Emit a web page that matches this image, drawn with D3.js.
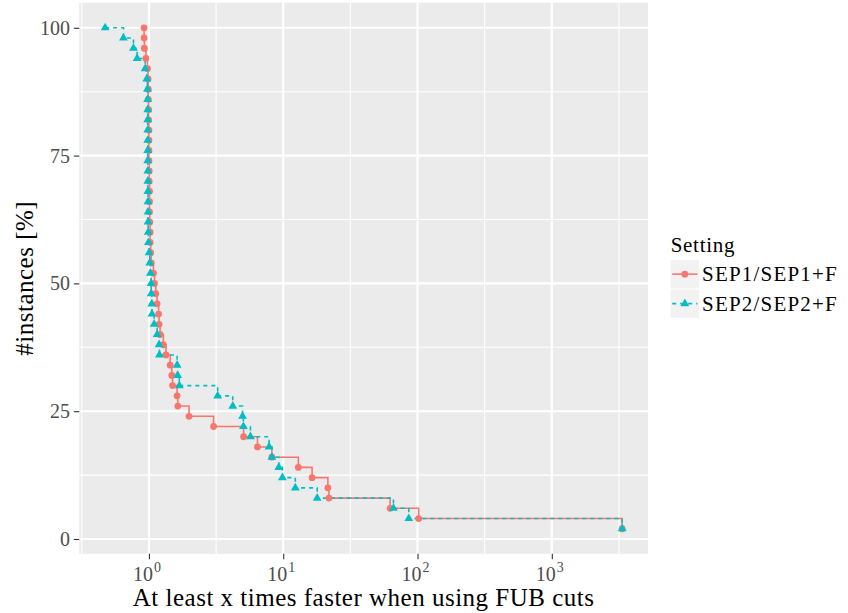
<!DOCTYPE html>
<html>
<head>
<meta charset="utf-8">
<script src="https://cdn.jsdelivr.net/npm/d3@7"></script>
<style>
  body { margin: 0; background: #ffffff; }
  text { font-family: "Liberation Serif", "DejaVu Serif", serif; }
</style>
</head>
<body>
<div id="vis"></div>
<script>
// values
const PERCENT = [100, 98, 96, 94, 92, 90, 88, 86, 84, 82,
                 80, 78, 76, 74, 72, 70, 68, 66, 64, 62,
                 60, 58, 56, 54, 52, 50, 48, 46, 44, 42,
                 40, 38, 36, 34, 32, 30, 28, 26, 24, 22,
                 20, 18, 16, 14, 12, 10, 8, 6, 4, 2];

const SEP1 = [0.92, 0.92, 0.925, 0.95, 0.975, 0.985, 0.99, 0.99, 0.995, 0.995,
              1.0, 1.0, 1.0, 1.0, 1.005, 1.005, 1.01, 1.01, 1.01, 1.015,
              1.02, 1.02, 1.03, 1.04, 1.08, 1.10, 1.125, 1.15, 1.18, 1.19,
              1.21, 1.28, 1.34, 1.44, 1.48, 1.50, 1.62, 1.64, 1.99, 3.03,
              5.07, 6.43, 8.23, 12.97, 16.4, 21.5, 21.9, 62.5, 102, 3340];

const SEP2 = [0.472, 0.646, 0.767, 0.817, 0.937, 0.964, 0.975, 0.978, 0.98, 0.98,
              0.98, 0.98, 0.98, 0.98, 0.982, 0.982, 0.982, 0.985, 0.985, 0.985,
              0.988, 0.991, 1.003, 1.015, 1.026, 1.038, 1.040, 1.051, 1.053, 1.093,
              1.151, 1.191, 1.197, 1.622, 1.636, 1.684, 3.25, 4.21, 4.98, 5.05,
              5.70, 7.85, 8.23, 9.27, 9.86, 12.3, 17.9, 66.2, 86.1, 3340];

const SERIES_NAMES = ["SEP1/SEP1+F", "SEP2/SEP2+F"];
const X_TICKS = [1, 10, 100, 1000];
const X_TICK_EXP = ["0", "1", "2", "3"];
const X_MINOR = [0.316228, 3.16228, 31.6228, 316.228, 3162.28];
const Y_TICKS = [0, 25, 50, 75, 100];
const Y_MINOR = [12.5, 37.5, 62.5, 87.5];

// frame
const FRAME_WIDTH = 848;
const FRAME_HEIGHT = 613;
const PANEL = {left: 79.3, right: 648, top: 2.75, bottom: 553.8};

const COLORS = ["#F8766D", "#00BFC4"];

const FRAME = d3.select("#vis")
  .append("svg")
    .attr("width", FRAME_WIDTH)
    .attr("height", FRAME_HEIGHT);

// series as point lists
const SERIES = [SEP1, SEP2].map((xs) => {
  return xs.map((x, i) => { return {x: x, y: PERCENT[i]}; });
});

// scales with ggplot style 5% expansion
const ALL_X = SEP1.concat(SEP2);
const LOG_MIN = Math.log10(d3.min(ALL_X));
const LOG_MAX = Math.log10(d3.max(ALL_X));
const LOG_PAD = (LOG_MAX - LOG_MIN) * 0.05;

const X_SCALE = d3.scaleLog()
  .domain([Math.pow(10, LOG_MIN - LOG_PAD), Math.pow(10, LOG_MAX + LOG_PAD)])
  .range([PANEL.left, PANEL.right]);

const Y_MIN = d3.min(PERCENT);
const Y_MAX = d3.max(PERCENT);
const Y_PAD = (Y_MAX - Y_MIN) * 0.05;

const Y_SCALE = d3.scaleLinear()
  .domain([Y_MIN - Y_PAD, Y_MAX + Y_PAD])
  .range([PANEL.bottom, PANEL.top]);

// panel background
FRAME.append("rect")
  .attr("x", PANEL.left)
  .attr("y", PANEL.top)
  .attr("width", PANEL.right - PANEL.left)
  .attr("height", PANEL.bottom - PANEL.top)
  .attr("fill", "#EBEBEB");

// minor grid
FRAME.selectAll(".xminor")
  .data(X_MINOR.filter((d) => { return X_SCALE(d) >= PANEL.left && X_SCALE(d) <= PANEL.right; }))
  .enter()
  .append("line")
    .attr("x1", (d) => { return X_SCALE(d); })
    .attr("x2", (d) => { return X_SCALE(d); })
    .attr("y1", PANEL.top)
    .attr("y2", PANEL.bottom)
    .attr("stroke", "#ffffff")
    .attr("stroke-width", 1.1);

FRAME.selectAll(".yminor")
  .data(Y_MINOR)
  .enter()
  .append("line")
    .attr("x1", PANEL.left)
    .attr("x2", PANEL.right)
    .attr("y1", (d) => { return Y_SCALE(d); })
    .attr("y2", (d) => { return Y_SCALE(d); })
    .attr("stroke", "#ffffff")
    .attr("stroke-width", 1.1);

// major grid
FRAME.selectAll(".xmajor")
  .data(X_TICKS)
  .enter()
  .append("line")
    .attr("x1", (d) => { return X_SCALE(d); })
    .attr("x2", (d) => { return X_SCALE(d); })
    .attr("y1", PANEL.top)
    .attr("y2", PANEL.bottom)
    .attr("stroke", "#ffffff")
    .attr("stroke-width", 2.1);

FRAME.selectAll(".ymajor")
  .data(Y_TICKS)
  .enter()
  .append("line")
    .attr("x1", PANEL.left)
    .attr("x2", PANEL.right)
    .attr("y1", (d) => { return Y_SCALE(d); })
    .attr("y2", (d) => { return Y_SCALE(d); })
    .attr("stroke", "#ffffff")
    .attr("stroke-width", 2.1);

// step lines, horizontal first then vertical
const STEP = d3.line()
  .x((d) => { return X_SCALE(d.x); })
  .y((d) => { return Y_SCALE(d.y); })
  .curve(d3.curveStepAfter);

SERIES.forEach((s, i) => {
  FRAME.append("path")
    .datum(s)
    .attr("d", STEP)
    .attr("fill", "none")
    .attr("stroke", COLORS[i])
    .attr("stroke-width", 1.6)
    .attr("stroke-dasharray", i === 1 ? "4,4" : null);
});

// points
const TRIANGLE = d3.symbol().type(d3.symbolTriangle).size(34);

FRAME.selectAll(".p1")
  .data(SERIES[0])
  .enter()
  .append("circle")
    .attr("cx", (d) => { return X_SCALE(d.x); })
    .attr("cy", (d) => { return Y_SCALE(d.y); })
    .attr("r", 3.4)
    .attr("fill", COLORS[0]);

FRAME.selectAll(".p2")
  .data(SERIES[1])
  .enter()
  .append("path")
    .attr("d", TRIANGLE)
    .attr("transform", (d) => { return "translate(" + X_SCALE(d.x) + "," + Y_SCALE(d.y) + ")"; })
    .attr("fill", COLORS[1]);

// x axis ticks and labels
FRAME.append("g")
  .attr("transform", "translate(0," + PANEL.bottom + ")")
  .call(d3.axisBottom(X_SCALE).tickValues(X_TICKS).tickSize(5.5).tickFormat(""))
  .call((g) => { g.select(".domain").remove(); })
  .call((g) => { g.selectAll("line").attr("stroke", "#333333").attr("stroke-width", 1.1); });

// base "10" and the exponent as two texts
FRAME.selectAll(".xlab")
  .data(X_TICKS)
  .enter()
  .append("text")
    .attr("x", (d) => { return X_SCALE(d) + 4; })
    .attr("y", 581)
    .attr("text-anchor", "end")
    .attr("font-size", "20px")
    .attr("fill", "#4D4D4D")
    .text("10");

FRAME.selectAll(".xexp")
  .data(X_TICKS)
  .enter()
  .append("text")
    .attr("x", (d) => { return X_SCALE(d) + 5; })
    .attr("y", 572)
    .attr("font-size", "14px")
    .attr("fill", "#4D4D4D")
    .text((d, i) => { return X_TICK_EXP[i]; });

// y axis ticks and labels
FRAME.append("g")
  .attr("transform", "translate(" + PANEL.left + ",0)")
  .call(d3.axisLeft(Y_SCALE).tickValues(Y_TICKS).tickSize(5.5).tickFormat(""))
  .call((g) => { g.select(".domain").remove(); })
  .call((g) => { g.selectAll("line").attr("stroke", "#333333").attr("stroke-width", 1.1); });

FRAME.selectAll(".ylab")
  .data(Y_TICKS)
  .enter()
  .append("text")
    .attr("x", 70)
    .attr("y", (d) => { return Y_SCALE(d) + 7; })
    .attr("text-anchor", "end")
    .attr("font-size", "20px")
    .attr("fill", "#4D4D4D")
    .text((d) => { return d; });

// axis titles
FRAME.append("text")
  .attr("x", (PANEL.left + PANEL.right) / 2)
  .attr("y", 606)
  .attr("text-anchor", "middle")
  .attr("font-size", "25px")
  .attr("letter-spacing", "0.5px")
  .text("At least x times faster when using FUB cuts");

FRAME.append("text")
  .attr("transform", "translate(33," + ((PANEL.top + PANEL.bottom) / 2) + ") rotate(-90)")
  .attr("text-anchor", "middle")
  .attr("font-size", "25px")
  .attr("letter-spacing", "0.5px")
  .text("#instances [%]");

// legend
const LEGEND = FRAME.append("g")
  .attr("transform", "translate(670.7,0)");

LEGEND.append("text")
  .attr("x", 0)
  .attr("y", 251.7)
  .attr("font-size", "21px")
  .attr("letter-spacing", "0.7px")
  .text("Setting");

const KEY = 28.3;
const ROWS = [260, 289.5];

SERIES_NAMES.forEach((name, i) => {
  const top = ROWS[i];
  const mid = top + KEY / 2;

  LEGEND.append("rect")
    .attr("x", 0)
    .attr("y", top)
    .attr("width", KEY)
    .attr("height", KEY)
    .attr("fill", "#F2F2F2");

  LEGEND.append("line")
    .attr("x1", 1.5)
    .attr("x2", KEY - 1.5)
    .attr("y1", mid)
    .attr("y2", mid)
    .attr("stroke", COLORS[i])
    .attr("stroke-width", 1.6)
    .attr("stroke-dasharray", i === 1 ? "4,4" : null);

  if (i === 0) {
    LEGEND.append("circle")
      .attr("cx", KEY / 2)
      .attr("cy", mid)
      .attr("r", 3.4)
      .attr("fill", COLORS[0]);
  } else {
    LEGEND.append("path")
      .attr("d", TRIANGLE)
      .attr("transform", "translate(" + (KEY / 2) + "," + mid + ")")
      .attr("fill", COLORS[1]);
  }

  LEGEND.append("text")
    .attr("x", KEY + 3)
    .attr("y", mid + 7)
    .attr("font-size", "21px")
    .attr("letter-spacing", "1.2px")
    .text(name);
});
</script>
</body>
</html>
